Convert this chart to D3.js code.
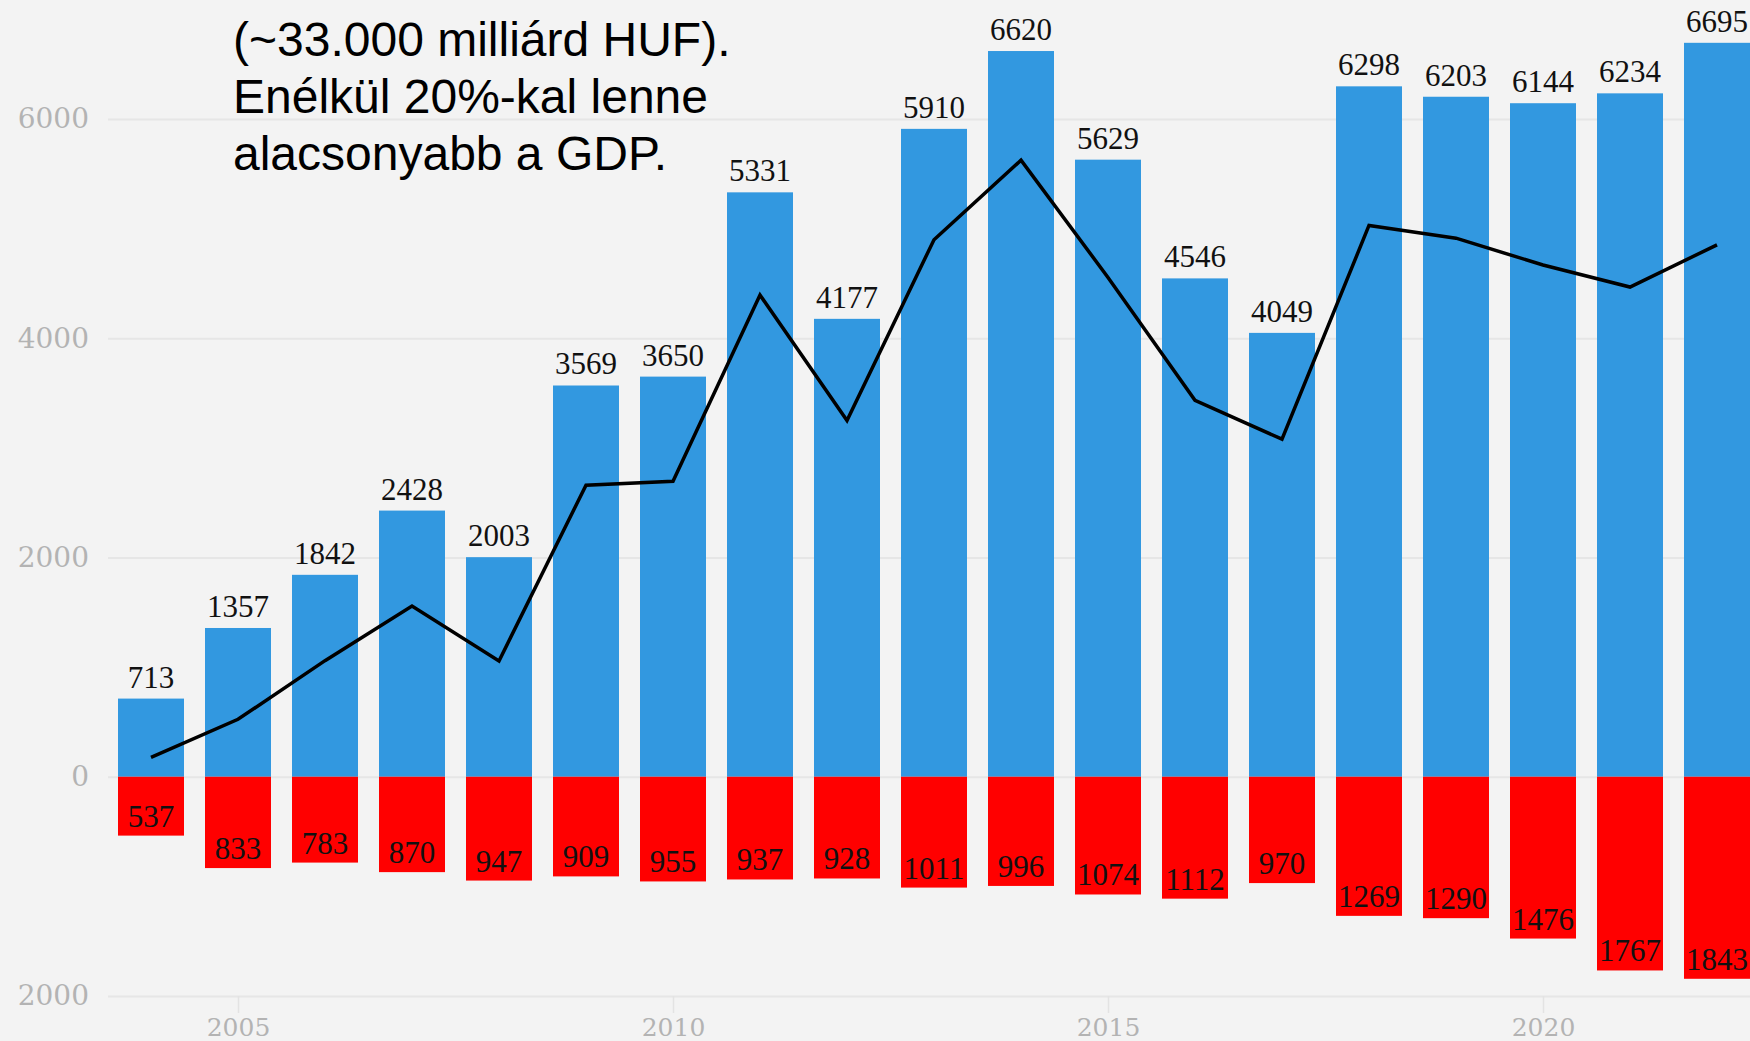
<!DOCTYPE html>
<html lang="hu">

<head>
    <meta charset="utf-8">
    <script src="https://d3js.org/d3.v7.min.js"></script>
    <style>
        body { margin: 0; background: #f3f3f3; }
        .grid line { stroke: #e6e6e6; stroke-width: 2; }
        .grid path { display: none; }
        .grid text { fill: #b3b3b3; font-family: "DejaVu Serif", serif; font-size: 28px; }
        .xaxis path { display: none; }
        .xaxis line { stroke: #e3e3e3; stroke-width: 1.5; }
        .xaxis text { fill: #b3b3b3; font-family: "DejaVu Serif", serif; font-size: 25px; }
        .val { font-family: "Liberation Serif", serif; font-size: 31px; fill: #111; text-anchor: middle; }
        .note { font-family: "Liberation Sans", Arial, sans-serif; font-size: 48px; fill: #000; }
    </style>
</head>

<body>
    <script>
        // years on the x axis
        const years = [2004, 2005, 2006, 2007, 2008, 2009, 2010, 2011, 2012, 2013,
            2014, 2015, 2016, 2017, 2018, 2019, 2020, 2021, 2022];

        // blue bars (above zero)
        const inflow = [713, 1357, 1842, 2428, 2003, 3569, 3650, 5331, 4177, 5910,
            6620, 5629, 4546, 4049, 6298, 6203, 6144, 6234, 6695];

        // red bars (drawn below zero)
        const outflow = [537, 833, 783, 870, 947, 909, 955, 937, 928, 1011,
            996, 1074, 1112, 970, 1269, 1290, 1476, 1767, 1843];

        // black line
        const balance = [176, 524, 1059, 1558, 1056, 2660, 2695, 4394, 3249, 4899,
            5624, 4555, 3434, 3079, 5029, 4913, 4668, 4467, 4852];

        const yTicks = [-2000, 0, 2000, 4000, 6000];
        const xTicks = [2005, 2010, 2015, 2020];

        const noteLines = ["(~33.000 milliárd HUF).", "Enélkül 20%-kal lenne", "alacsonyabb a GDP."];

        const width = 1750;
        const height = 1041;
        const gridLeft = 108;
        const barWidth = 66;

        const svg = d3.select("body")
            .append("svg")
            .attr("width", width)
            .attr("height", height);

        svg.append("rect")
            .attr("width", width)
            .attr("height", height)
            .attr("fill", "#f3f3f3");

        const x = d3.scaleLinear()
            .domain([2004, 2022])
            .range([151, 1717]);

        const y = d3.scaleLinear()
            .domain([-2000, 6000])
            .range([996, 119]);

        // gridlines + y labels
        svg.append("g")
            .attr("class", "grid")
            .attr("transform", "translate(" + gridLeft + ",0)")
            .call(d3.axisLeft(y)
                .tickValues(yTicks)
                .tickSize(-(width - gridLeft))
                .tickPadding(19)
                .tickFormat(d => Math.abs(d)));

        svg.append("g")
            .attr("class", "xaxis")
            .attr("transform", "translate(0," + y(-2000) + ")")
            .call(d3.axisBottom(x)
                .tickValues(xTicks)
                .tickSize(17)
                .tickPadding(5)
                .tickFormat(d3.format("d")));

        const rows = years.map((yr, i) => ({ year: yr, up: inflow[i], down: outflow[i], net: balance[i] }));

        svg.selectAll("rect.up")
            .data(rows)
            .enter()
            .append("rect")
            .attr("class", "up")
            .attr("x", d => x(d.year) - barWidth / 2)
            .attr("y", d => y(d.up))
            .attr("width", barWidth)
            .attr("height", d => y(0) - y(d.up))
            .attr("fill", "#3298e0");

        svg.selectAll("rect.down")
            .data(rows)
            .enter()
            .append("rect")
            .attr("class", "down")
            .attr("x", d => x(d.year) - barWidth / 2)
            .attr("y", y(0))
            .attr("width", barWidth)
            .attr("height", d => y(-d.down) - y(0))
            .attr("fill", "#ff0000");

        svg.selectAll("text.upval")
            .data(rows)
            .enter()
            .append("text")
            .attr("class", "val upval")
            .attr("x", d => x(d.year))
            .attr("y", d => y(d.up) - 11)
            .text(d => d.up);

        svg.selectAll("text.downval")
            .data(rows)
            .enter()
            .append("text")
            .attr("class", "val downval")
            .attr("x", d => x(d.year))
            .attr("y", d => y(-d.down) - 9)
            .text(d => d.down);

        const line = d3.line()
            .x(d => x(d.year))
            .y(d => y(d.net));

        svg.append("path")
            .datum(rows)
            .attr("d", line)
            .attr("fill", "none")
            .attr("stroke", "#000")
            .attr("stroke-width", 3.5)
            .attr("stroke-linejoin", "miter");

        // annotation text in the top left
        svg.selectAll("text.note")
            .data(noteLines)
            .enter()
            .append("text")
            .attr("class", "note")
            .attr("x", 233)
            .attr("y", (d, i) => 56 + i * 57)
            .text(d => d);
    </script>
</body>

</html>
